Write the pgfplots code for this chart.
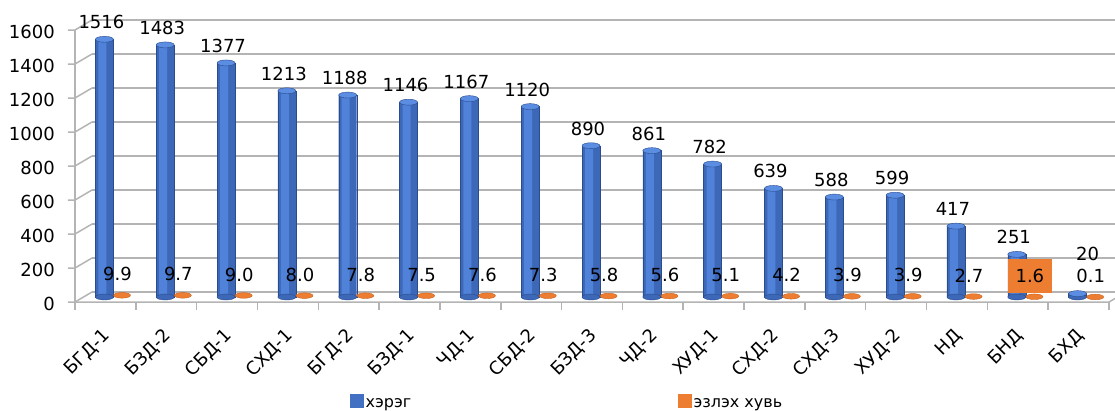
\documentclass[border=0pt]{standalone}
\usepackage{pgfplots}
\usepackage{pgfplotstable}
\pgfplotsset{compat=1.18}
\usepackage{fontspec}
\setmainfont{DejaVu Sans}
\definecolor{cblue}{HTML}{3D68B8}
\definecolor{cbluelt}{HTML}{4F82D8}
\definecolor{cbluecap}{HTML}{5B8DE2}
\definecolor{cbluedk}{HTML}{2B4C8C}
\definecolor{corange}{HTML}{ED7D31}
\definecolor{corangedk}{HTML}{C8621F}
\definecolor{cgrid}{HTML}{B4B4B4}

\pgfplotstableread{
x h p plab
0 1516 9.9 9.9
1 1483 9.7 9.7
2 1377 9.0 9.0
3 1213 8.0 8.0
4 1188 7.8 7.8
5 1146 7.5 7.5
6 1167 7.6 7.6
7 1120 7.3 7.3
8 890 5.8 5.8
9 861 5.6 5.6
10 782 5.1 5.1
11 639 4.2 4.2
12 588 3.9 3.9
13 599 3.9 3.9
14 417 2.7 2.7
15 251 1.6 1.6
16 20 0.1 0.1
}\datatable

\def\raiseval{20}
\def\boxval{1.6}
\newcommand\bluelabel{\edef\tmpmeta{\pgfplotspointmeta}\ifx\tmpmeta\raiseval\hspace*{26pt}\raisebox{23pt}{\pgfplotspointmeta}\else\pgfplotspointmeta\fi}
\newcommand\orangelabel{\edef\tmpmeta{\pgfplotspointmeta}\ifx\tmpmeta\boxval{\setlength{\fboxsep}{0pt}\colorbox{corange}{\rule[-10pt]{0pt}{34pt}\hspace{8pt}\pgfplotspointmeta\hspace{8pt}}}\else\pgfplotspointmeta\fi}

\begin{document}
\begin{tikzpicture}[font=\fontsize{18}{21}\selectfont]
\begin{axis}[
  scale only axis, width=1034pt, height=272pt,
  at={(0pt,0pt)}, anchor=south west,
  xmin=-0.5, xmax=16.5, ymin=0, ymax=1600,
  clip=false,
  axis line style={draw=none}, tick style={draw=none},
  xtick={0,...,16},
  xticklabels={БГД-1,БЗД-2,СБД-1,СХД-1,БГД-2,БЗД-1,ЧД-1,СБД-2,БЗД-3,ЧД-2,ХУД-1,СХД-2,СХД-3,ХУД-2,НД,БНД,БХД},
  ytick={0,200,...,1600},
  yticklabel style={anchor=east, inner sep=0pt, xshift=-20pt, yshift=-7pt},
  xticklabel style={xshift=2pt, yshift=-36pt, rotate=45, anchor=east, inner sep=0pt},
  /pgf/number format/assume math mode=true,
  /pgf/number format/1000 sep={},
  legend columns=2,
  legend style={draw=none, fill=none, inner sep=0pt, at={(0.266,-0.355)}, anchor=north west,
    font=\fontsize{16}{18}\selectfont,
    /tikz/every even column/.append style={column sep=265pt}},
  legend cell align=left,
]
% walls and grid (decoration)
\pgfplotsinvokeforeach{0,200,...,1600}{
  \draw[cgrid, line width=1.5pt] ([shift={(17pt,5pt)}]axis cs:-0.5,#1) -- ([shift={(40pt,5pt)}]axis cs:16.5,#1);
  \draw[cgrid, line width=1.5pt] ([shift={(-7pt,-5pt)}]axis cs:-0.5,#1) -- ([shift={(0pt,-5pt)}]axis cs:-0.5,#1) -- ([shift={(17pt,5pt)}]axis cs:-0.5,#1);
}
\draw[cgrid, line width=1.5pt] ([shift={(0pt,-5pt)}]axis cs:-0.5,0) -- ([shift={(0pt,-5pt)}]axis cs:-0.5,1600);
\draw[cgrid, line width=1.5pt] ([shift={(0pt,-5pt)}]axis cs:-0.5,0) -- ([shift={(0pt,-5pt)}]axis cs:16.5,0) -- ([shift={(17pt,5pt)}]axis cs:16.5,0);
\pgfplotsinvokeforeach{-0.5,0.5,...,16.5}{
  \draw[cgrid, line width=1.5pt] ([shift={(0pt,-5pt)}]axis cs:#1,0) -- ([shift={(0pt,-13pt)}]axis cs:#1,0);
}

\addlegendimage{legend image code/.code={\fill[cblue!70!cbluelt] (0pt,-3pt) rectangle (13pt,10pt);}}
\addlegendentry{хэрэг}
\addlegendimage{legend image code/.code={\fill[corange] (0pt,-3pt) rectangle (13pt,10pt);}}
\addlegendentry{эзлэх хувь}

% blue cylinders: bottom cap, body, highlight, top cap
\addplot[forget plot, only marks, mark=*, mark size=9pt,
  mark options={xshift=-1pt, yscale=0.33, fill=cblue, draw=cbluedk, line width=0.4pt}]
  table[x=x, y expr=0] {\datatable};
\addplot[ybar, forget plot, bar width=18pt, bar shift=-1pt,
  draw=cbluedk, line width=0.4pt, fill=cblue,
  point meta=explicit symbolic,
  nodes near coords={\bluelabel},
  nodes near coords style={anchor=south, inner sep=0pt, yshift=10pt, xshift=-4pt, text=black}]
  table[x=x, y=h, meta=h] {\datatable};
\addplot[ybar, forget plot, bar width=8pt, bar shift=-3pt, draw=none, fill=cbluelt]
  table[x=x, y=h] {\datatable};
\addplot[forget plot, only marks, mark=*, mark size=9pt,
  mark options={xshift=-1pt, yscale=0.33, fill=cbluecap, draw=cbluedk, line width=0.4pt}]
  table[x=x, y=h] {\datatable};

% orange discs
\addplot[forget plot, only marks, mark=*, mark size=8.5pt,
  mark options={xshift=16.6pt, yscale=0.33, fill=corange, draw=corangedk, line width=0.4pt},
  point meta=explicit symbolic,
  nodes near coords={\orangelabel},
  nodes near coords style={anchor=center, inner sep=0pt, yshift=21pt, xshift=-4.5pt, text=black}]
  table[x=x, y=p, meta=plab] {\datatable};
\end{axis}
\pgfresetboundingbox
\path[use as bounding box] (-75pt,-113pt) rectangle (1040pt,297pt);
\end{tikzpicture}
\end{document}
